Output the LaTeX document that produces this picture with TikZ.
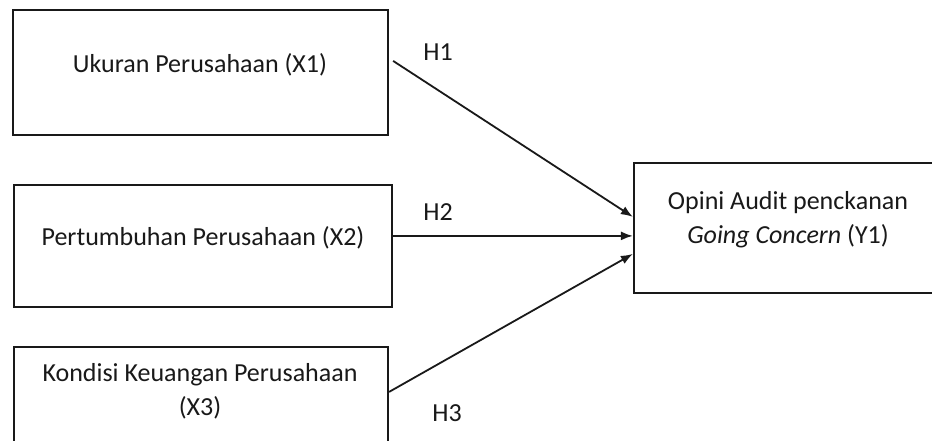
\documentclass[tikz,border=0pt]{standalone}
\usepackage{fontspec}
\setmainfont{Carlito}
\usetikzlibrary{arrows.meta,calc}
\begin{document}
\begin{tikzpicture}[x=1pt,y=-1pt,
  box/.style={draw=black!90,line width=2.2pt,rectangle,inner sep=0pt},
  txt/.style={font=\fontsize{26}{34}\selectfont,text=black!90,inner sep=0pt,align=center},
  hlab/.style={font=\fontsize{26}{34}\selectfont,text=black!90,inner sep=0pt},
  conn/.style={draw=black!90,line width=1.8pt,-{Latex[length=12pt,width=9pt]}}]
\fill[white] (0,0) rectangle (932,440);
\useasboundingbox (0,0) rectangle (932,440);
\clip (0,0) rectangle (932,440);
\node[box,minimum width=375pt,minimum height=125pt] (b1) at (200.5,72.5) {};
\node[box,minimum width=378pt,minimum height=122pt] (b2) at (203,246) {};
\node[box,minimum width=374pt,minimum height=123pt] (b3) at (201,408.5) {};
\node[box,minimum width=326pt,minimum height=130pt] (by) at (797,228) {};
\node[txt] (t1) at (200,65) {Ukuran Perusahaan (X1)};
\node[txt] (t2) at (203,238) {Pertumbuhan Perusahaan (X2)};
\node[txt] (t3) at (200,391) {Kondisi Keuangan Perusahaan\\(X3)};
\node[txt] (ty) at (788,220) {Opini Audit penckanan\\\textit{Going Concern} (Y1)};
\node[hlab] (h1) at (438,52) {H1};
\node[hlab] (h2) at (438,212) {H2};
\node[hlab] (h3) at (447,413) {H3};
\coordinate (s1) at ($(b1.north east)+(4,52)$);
\coordinate (s2) at ($(b2.north east)+(0,52)$);
\coordinate (s3) at ($(b3.north east)+(0,46)$);
\coordinate (e1) at ($(by.north west)+(0,55)$);
\coordinate (e2) at ($(by.north west)+(0,74)$);
\coordinate (e3) at ($(by.north west)+(0,92)$);
\draw[conn] (s1) -- (e1);
\draw[conn] (s2) -- (e2);
\draw[conn] (s3) -- (e3);
\end{tikzpicture}
\end{document}
